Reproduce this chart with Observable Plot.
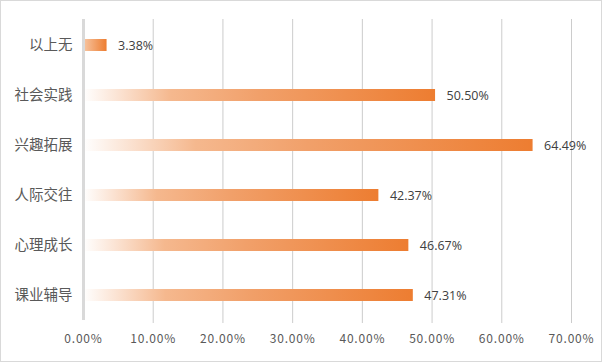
<!DOCTYPE html>
<html>
<head>
<meta charset="utf-8">
<script src="https://cdn.jsdelivr.net/npm/d3@7"></script>
<script src="https://cdn.jsdelivr.net/npm/@observablehq/plot@0.6"></script>
<style>
  html, body { margin: 0; padding: 0; background: #fff; }
  svg { display: block; outline: 1px solid #d9d9d9; outline-offset: -1px; }
</style>
</head>
<body>
<div id="chart"></div>
<script>
const categories = ["以上无", "社会实践", "兴趣拓展", "人际交往", "心理成长", "课业辅导"];
const values = [3.38, 50.50, 64.49, 42.37, 46.67, 47.31];
const xTicks = [0, 10, 20, 30, 40, 50, 60, 70];

const data = categories.map((c, i) => ({category: c, value: values[i]}));

const font = "'Noto Sans CJK SC', 'Noto Sans', sans-serif";

const plot = Plot.plot({
  width: 602,
  height: 362,
  marginLeft: 83,
  marginRight: 31,
  marginTop: 19,
  marginBottom: 42,
  style: {fontFamily: font, background: "#fff"},
  x: {domain: [0, 70], axis: null},
  y: {domain: categories, paddingInner: 0.76, paddingOuter: 0.38, axis: null},
  marks: [
    () => {
      const defs = d3.create("svg:defs");
      const g1 = defs.append("linearGradient").attr("id", "gradLong").attr("x1", 0).attr("x2", 1).attr("y1", 0).attr("y2", 0);
      [[0, "#ffffff"], [0.1, "#fbe3d3"], [0.25, "#f5b88e"], [0.5, "#f1a06a"], [1, "#ed7d31"]]
        .forEach(([o, c]) => g1.append("stop").attr("offset", o).attr("stop-color", c));
      const g2 = defs.append("linearGradient").attr("id", "gradShort").attr("x1", 0).attr("x2", 1).attr("y1", 0).attr("y2", 0);
      [[0, "#f7c7a4"], [1, "#ed7d31"]]
        .forEach(([o, c]) => g2.append("stop").attr("offset", o).attr("stop-color", c));
      return defs.node();
    },
    Plot.ruleX(xTicks.filter(t => t > 0), {x: d => d, stroke: "#cccccc", strokeWidth: 1, insetBottom: -3}),
    Plot.barX(data.filter(d => d.value >= 10), {x: "value", y: "category", fill: "url(#gradLong)"}),
    Plot.barX(data.filter(d => d.value < 10), {x: "value", y: "category", fill: "url(#gradShort)"}),
    Plot.ruleX([0], {stroke: "#d9d9d9", strokeWidth: 3}),
    Plot.axisX({
      ticks: xTicks,
      tickSize: 0,
      tickPadding: 14,
      tickFormat: d => d.toFixed(2) + "%",
      fontSize: 12,
      fill: "#595959",
      label: null
    }),
    Plot.axisY({
      tickSize: 0,
      tickPadding: 11,
      fontSize: 14.5,
      fill: "#595959",
      label: null
    }),
    Plot.text(data, {
      x: "value",
      y: "category",
      text: d => d.value.toFixed(2) + "%",
      textAnchor: "start",
      dx: 11,
      fontSize: 12.5,
      fontFamily: "'Open Sans', sans-serif",
      fill: "#404040"
    })
  ]
});

plot.querySelectorAll("[aria-label='x-axis tick label'] text").forEach(t => t.setAttribute("letter-spacing", "0.8"));
document.getElementById("chart").appendChild(plot);
</script>
</body>
</html>
